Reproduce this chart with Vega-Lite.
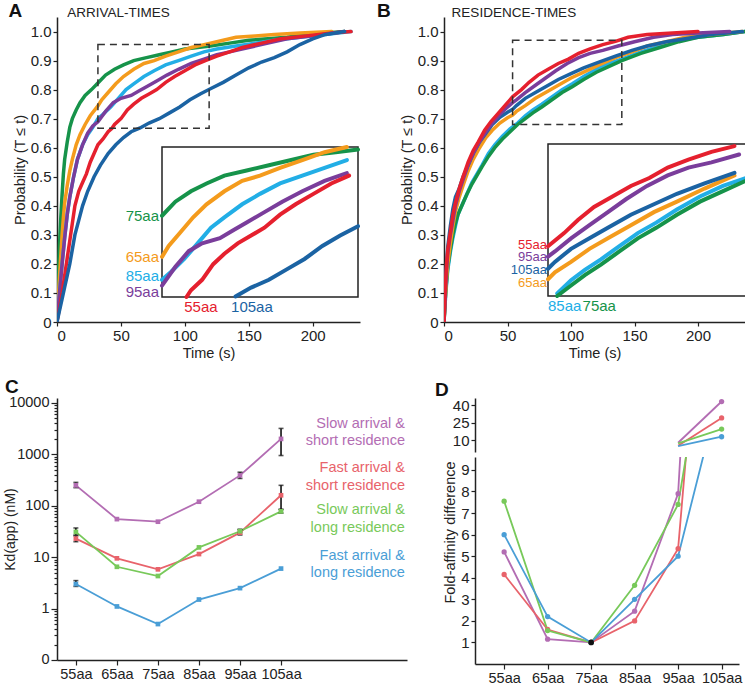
{
"$schema": "https://vega.github.io/schema/vega-lite/v6.json",
"padding": {"left": 3, "top": 2, "right": 2, "bottom": 0},
"config": {
  "font": "Liberation Sans",
  "view": {"stroke": null},
  "style": {"guide-label": {"fontSize": 15}, "guide-title": {"fontSize": 14.5, "fontWeight": "normal"}},
  "axis": {"grid": false, "domainColor": "#222", "tickColor": "#222", "labelColor": "#222", "titleColor": "#222", "labelFontSize": 15, "titleFontSize": 14.5, "titleFontWeight": "normal", "labelFont": "Liberation Sans", "titleFont": "Liberation Sans", "domainWidth": 1.5, "tickWidth": 1.2, "tickSize": 4, "labelPadding": 2, "titlePadding": 3, "labelOverlap": false}
},
"datasets": {
  "arr": [
    {"c":"75aa","t":0,"p":0},{"c":"75aa","t":1,"p":0.15},{"c":"75aa","t":2,"p":0.27},{"c":"75aa","t":3,"p":0.36},{"c":"75aa","t":4,"p":0.44},{"c":"75aa","t":5,"p":0.51},{"c":"75aa","t":6,"p":0.56},{"c":"75aa","t":8,"p":0.62},{"c":"75aa","t":10,"p":0.67},{"c":"75aa","t":12,"p":0.7},{"c":"75aa","t":15,"p":0.73},{"c":"75aa","t":18,"p":0.755},{"c":"75aa","t":22,"p":0.78},{"c":"75aa","t":27,"p":0.8},{"c":"75aa","t":32,"p":0.823},{"c":"75aa","t":38,"p":0.85},{"c":"75aa","t":45,"p":0.87},{"c":"75aa","t":52,"p":0.885},{"c":"75aa","t":60,"p":0.9},{"c":"75aa","t":70,"p":0.91},{"c":"75aa","t":80,"p":0.92},{"c":"75aa","t":90,"p":0.93},{"c":"75aa","t":100,"p":0.94},{"c":"75aa","t":110,"p":0.945},{"c":"75aa","t":120,"p":0.95},{"c":"75aa","t":135,"p":0.96},{"c":"75aa","t":150,"p":0.97},{"c":"75aa","t":165,"p":0.975},{"c":"75aa","t":180,"p":0.98},{"c":"75aa","t":195,"p":0.99},{"c":"75aa","t":210,"p":0.995},{"c":"75aa","t":225,"p":1.0},
    {"c":"65aa","t":0,"p":0},{"c":"65aa","t":1,"p":0.08},{"c":"65aa","t":2,"p":0.16},{"c":"65aa","t":3,"p":0.23},{"c":"65aa","t":4,"p":0.3},{"c":"65aa","t":5,"p":0.36},{"c":"65aa","t":6,"p":0.41},{"c":"65aa","t":8,"p":0.47},{"c":"65aa","t":10,"p":0.52},{"c":"65aa","t":12,"p":0.56},{"c":"65aa","t":15,"p":0.61},{"c":"65aa","t":18,"p":0.645},{"c":"65aa","t":22,"p":0.68},{"c":"65aa","t":26,"p":0.71},{"c":"65aa","t":32,"p":0.744},{"c":"65aa","t":35,"p":0.765},{"c":"65aa","t":40,"p":0.79},{"c":"65aa","t":46,"p":0.82},{"c":"65aa","t":52,"p":0.845},{"c":"65aa","t":60,"p":0.87},{"c":"65aa","t":68,"p":0.89},{"c":"65aa","t":76,"p":0.9},{"c":"65aa","t":85,"p":0.915},{"c":"65aa","t":95,"p":0.93},{"c":"65aa","t":105,"p":0.945},{"c":"65aa","t":115,"p":0.955},{"c":"65aa","t":125,"p":0.965},{"c":"65aa","t":140,"p":0.98},{"c":"65aa","t":155,"p":0.985},{"c":"65aa","t":170,"p":0.99},{"c":"65aa","t":190,"p":0.995},{"c":"65aa","t":215,"p":1.0},
    {"c":"85aa","t":0,"p":0},{"c":"85aa","t":1,"p":0.05},{"c":"85aa","t":2,"p":0.1},{"c":"85aa","t":3,"p":0.15},{"c":"85aa","t":4,"p":0.2},{"c":"85aa","t":6,"p":0.29},{"c":"85aa","t":8,"p":0.37},{"c":"85aa","t":10,"p":0.43},{"c":"85aa","t":13,"p":0.5},{"c":"85aa","t":16,"p":0.56},{"c":"85aa","t":20,"p":0.61},{"c":"85aa","t":24,"p":0.645},{"c":"85aa","t":28,"p":0.67},{"c":"85aa","t":32,"p":0.7},{"c":"85aa","t":36,"p":0.715},{"c":"85aa","t":42,"p":0.74},{"c":"85aa","t":48,"p":0.77},{"c":"85aa","t":54,"p":0.8},{"c":"85aa","t":60,"p":0.82},{"c":"85aa","t":68,"p":0.845},{"c":"85aa","t":76,"p":0.865},{"c":"85aa","t":85,"p":0.885},{"c":"85aa","t":95,"p":0.9},{"c":"85aa","t":105,"p":0.915},{"c":"85aa","t":115,"p":0.93},{"c":"85aa","t":125,"p":0.94},{"c":"85aa","t":140,"p":0.95},{"c":"85aa","t":155,"p":0.96},{"c":"85aa","t":170,"p":0.97},{"c":"85aa","t":190,"p":0.98},{"c":"85aa","t":210,"p":0.99},{"c":"85aa","t":230,"p":1.0},
    {"c":"95aa","t":0,"p":0},{"c":"95aa","t":1,"p":0.05},{"c":"95aa","t":2,"p":0.1},{"c":"95aa","t":3,"p":0.15},{"c":"95aa","t":4,"p":0.2},{"c":"95aa","t":6,"p":0.29},{"c":"95aa","t":8,"p":0.37},{"c":"95aa","t":10,"p":0.43},{"c":"95aa","t":13,"p":0.5},{"c":"95aa","t":16,"p":0.56},{"c":"95aa","t":20,"p":0.61},{"c":"95aa","t":24,"p":0.65},{"c":"95aa","t":28,"p":0.675},{"c":"95aa","t":32,"p":0.689},{"c":"95aa","t":38,"p":0.725},{"c":"95aa","t":44,"p":0.755},{"c":"95aa","t":50,"p":0.77},{"c":"95aa","t":58,"p":0.78},{"c":"95aa","t":64,"p":0.795},{"c":"95aa","t":70,"p":0.81},{"c":"95aa","t":78,"p":0.83},{"c":"95aa","t":86,"p":0.85},{"c":"95aa","t":95,"p":0.87},{"c":"95aa","t":105,"p":0.89},{"c":"95aa","t":115,"p":0.905},{"c":"95aa","t":125,"p":0.92},{"c":"95aa","t":135,"p":0.93},{"c":"95aa","t":150,"p":0.945},{"c":"95aa","t":165,"p":0.96},{"c":"95aa","t":180,"p":0.975},{"c":"95aa","t":200,"p":0.985},{"c":"95aa","t":225,"p":1.0},
    {"c":"55aa","t":0,"p":0},{"c":"55aa","t":2,"p":0.05},{"c":"55aa","t":4,"p":0.1},{"c":"55aa","t":6,"p":0.16},{"c":"55aa","t":8,"p":0.22},{"c":"55aa","t":10,"p":0.28},{"c":"55aa","t":12,"p":0.34},{"c":"55aa","t":14,"p":0.4},{"c":"55aa","t":17,"p":0.45},{"c":"55aa","t":20,"p":0.48},{"c":"55aa","t":23,"p":0.51},{"c":"55aa","t":26,"p":0.55},{"c":"55aa","t":29,"p":0.58},{"c":"55aa","t":32,"p":0.61},{"c":"55aa","t":36,"p":0.63},{"c":"55aa","t":40,"p":0.655},{"c":"55aa","t":43,"p":0.667},{"c":"55aa","t":45,"p":0.68},{"c":"55aa","t":50,"p":0.7},{"c":"55aa","t":55,"p":0.73},{"c":"55aa","t":60,"p":0.75},{"c":"55aa","t":66,"p":0.77},{"c":"55aa","t":72,"p":0.785},{"c":"55aa","t":78,"p":0.8},{"c":"55aa","t":85,"p":0.825},{"c":"55aa","t":92,"p":0.845},{"c":"55aa","t":100,"p":0.865},{"c":"55aa","t":108,"p":0.885},{"c":"55aa","t":116,"p":0.9},{"c":"55aa","t":125,"p":0.915},{"c":"55aa","t":135,"p":0.93},{"c":"55aa","t":145,"p":0.945},{"c":"55aa","t":160,"p":0.96},{"c":"55aa","t":175,"p":0.975},{"c":"55aa","t":195,"p":0.985},{"c":"55aa","t":215,"p":0.995},{"c":"55aa","t":230,"p":1.0},
    {"c":"105aa","t":0,"p":0},{"c":"105aa","t":2,"p":0.04},{"c":"105aa","t":4,"p":0.08},{"c":"105aa","t":6,"p":0.12},{"c":"105aa","t":8,"p":0.16},{"c":"105aa","t":10,"p":0.2},{"c":"105aa","t":12,"p":0.25},{"c":"105aa","t":14,"p":0.3},{"c":"105aa","t":17,"p":0.35},{"c":"105aa","t":20,"p":0.4},{"c":"105aa","t":24,"p":0.45},{"c":"105aa","t":29,"p":0.5},{"c":"105aa","t":34,"p":0.54},{"c":"105aa","t":40,"p":0.58},{"c":"105aa","t":46,"p":0.61},{"c":"105aa","t":52,"p":0.635},{"c":"105aa","t":58,"p":0.655},{"c":"105aa","t":65,"p":0.668},{"c":"105aa","t":72,"p":0.685},{"c":"105aa","t":80,"p":0.7},{"c":"105aa","t":88,"p":0.72},{"c":"105aa","t":96,"p":0.74},{"c":"105aa","t":104,"p":0.765},{"c":"105aa","t":112,"p":0.785},{"c":"105aa","t":120,"p":0.803},{"c":"105aa","t":130,"p":0.825},{"c":"105aa","t":140,"p":0.85},{"c":"105aa","t":150,"p":0.875},{"c":"105aa","t":160,"p":0.895},{"c":"105aa","t":170,"p":0.91},{"c":"105aa","t":180,"p":0.93},{"c":"105aa","t":190,"p":0.955},{"c":"105aa","t":200,"p":0.975},{"c":"105aa","t":210,"p":0.99},{"c":"105aa","t":225,"p":1.0}
  ],
  "res": [
    {"c":"85aa","t":0,"p":0},{"c":"85aa","t":1,"p":0.07},{"c":"85aa","t":2,"p":0.13},{"c":"85aa","t":3,"p":0.18},{"c":"85aa","t":5,"p":0.24},{"c":"85aa","t":7,"p":0.29},{"c":"85aa","t":9,"p":0.33},{"c":"85aa","t":11,"p":0.37},{"c":"85aa","t":14,"p":0.4},{"c":"85aa","t":18,"p":0.44},{"c":"85aa","t":22,"p":0.48},{"c":"85aa","t":26,"p":0.51},{"c":"85aa","t":30,"p":0.54},{"c":"85aa","t":35,"p":0.58},{"c":"85aa","t":40,"p":0.61},{"c":"85aa","t":46,"p":0.64},{"c":"85aa","t":52,"p":0.665},{"c":"85aa","t":58,"p":0.685},{"c":"85aa","t":64,"p":0.71},{"c":"85aa","t":70,"p":0.73},{"c":"85aa","t":77,"p":0.75},{"c":"85aa","t":85,"p":0.775},{"c":"85aa","t":93,"p":0.8},{"c":"85aa","t":101,"p":0.82},{"c":"85aa","t":110,"p":0.845},{"c":"85aa","t":120,"p":0.87},{"c":"85aa","t":130,"p":0.89},{"c":"85aa","t":140,"p":0.905},{"c":"85aa","t":155,"p":0.93},{"c":"85aa","t":170,"p":0.95},{"c":"85aa","t":185,"p":0.97},{"c":"85aa","t":200,"p":0.98},{"c":"85aa","t":220,"p":0.99},{"c":"85aa","t":237,"p":1.0},
    {"c":"75aa","t":0,"p":0},{"c":"75aa","t":1,"p":0.08},{"c":"75aa","t":2,"p":0.14},{"c":"75aa","t":3,"p":0.19},{"c":"75aa","t":5,"p":0.25},{"c":"75aa","t":7,"p":0.3},{"c":"75aa","t":9,"p":0.34},{"c":"75aa","t":11,"p":0.37},{"c":"75aa","t":14,"p":0.4},{"c":"75aa","t":18,"p":0.44},{"c":"75aa","t":22,"p":0.475},{"c":"75aa","t":26,"p":0.505},{"c":"75aa","t":30,"p":0.535},{"c":"75aa","t":35,"p":0.57},{"c":"75aa","t":40,"p":0.6},{"c":"75aa","t":46,"p":0.63},{"c":"75aa","t":52,"p":0.655},{"c":"75aa","t":58,"p":0.68},{"c":"75aa","t":64,"p":0.7},{"c":"75aa","t":70,"p":0.72},{"c":"75aa","t":77,"p":0.74},{"c":"75aa","t":85,"p":0.765},{"c":"75aa","t":93,"p":0.79},{"c":"75aa","t":101,"p":0.81},{"c":"75aa","t":110,"p":0.835},{"c":"75aa","t":120,"p":0.86},{"c":"75aa","t":130,"p":0.88},{"c":"75aa","t":140,"p":0.9},{"c":"75aa","t":155,"p":0.925},{"c":"75aa","t":170,"p":0.945},{"c":"75aa","t":185,"p":0.965},{"c":"75aa","t":200,"p":0.98},{"c":"75aa","t":220,"p":0.99},{"c":"75aa","t":237,"p":1.0},
    {"c":"65aa","t":0,"p":0},{"c":"65aa","t":1,"p":0.08},{"c":"65aa","t":2,"p":0.15},{"c":"65aa","t":3,"p":0.2},{"c":"65aa","t":5,"p":0.27},{"c":"65aa","t":7,"p":0.33},{"c":"65aa","t":9,"p":0.38},{"c":"65aa","t":12,"p":0.43},{"c":"65aa","t":15,"p":0.47},{"c":"65aa","t":19,"p":0.52},{"c":"65aa","t":23,"p":0.56},{"c":"65aa","t":28,"p":0.6},{"c":"65aa","t":33,"p":0.635},{"c":"65aa","t":38,"p":0.66},{"c":"65aa","t":44,"p":0.685},{"c":"65aa","t":50,"p":0.703},{"c":"65aa","t":54,"p":0.712},{"c":"65aa","t":57,"p":0.725},{"c":"65aa","t":64,"p":0.745},{"c":"65aa","t":72,"p":0.77},{"c":"65aa","t":80,"p":0.79},{"c":"65aa","t":90,"p":0.815},{"c":"65aa","t":100,"p":0.84},{"c":"65aa","t":110,"p":0.86},{"c":"65aa","t":122,"p":0.885},{"c":"65aa","t":135,"p":0.91},{"c":"65aa","t":148,"p":0.93},{"c":"65aa","t":160,"p":0.95},{"c":"65aa","t":175,"p":0.965},{"c":"65aa","t":190,"p":0.98},{"c":"65aa","t":210,"p":0.99},{"c":"65aa","t":235,"p":1.0},
    {"c":"105aa","t":0,"p":0},{"c":"105aa","t":1,"p":0.12},{"c":"105aa","t":2,"p":0.2},{"c":"105aa","t":3,"p":0.26},{"c":"105aa","t":5,"p":0.33},{"c":"105aa","t":7,"p":0.39},{"c":"105aa","t":9,"p":0.43},{"c":"105aa","t":12,"p":0.46},{"c":"105aa","t":15,"p":0.5},{"c":"105aa","t":19,"p":0.54},{"c":"105aa","t":23,"p":0.58},{"c":"105aa","t":28,"p":0.62},{"c":"105aa","t":33,"p":0.65},{"c":"105aa","t":38,"p":0.68},{"c":"105aa","t":44,"p":0.705},{"c":"105aa","t":50,"p":0.722},{"c":"105aa","t":54,"p":0.732},{"c":"105aa","t":57,"p":0.745},{"c":"105aa","t":64,"p":0.77},{"c":"105aa","t":72,"p":0.79},{"c":"105aa","t":80,"p":0.81},{"c":"105aa","t":90,"p":0.835},{"c":"105aa","t":100,"p":0.855},{"c":"105aa","t":110,"p":0.875},{"c":"105aa","t":122,"p":0.895},{"c":"105aa","t":135,"p":0.915},{"c":"105aa","t":148,"p":0.935},{"c":"105aa","t":160,"p":0.95},{"c":"105aa","t":175,"p":0.965},{"c":"105aa","t":190,"p":0.975},{"c":"105aa","t":210,"p":0.99},{"c":"105aa","t":235,"p":1.0},
    {"c":"95aa","t":0,"p":0},{"c":"95aa","t":1,"p":0.1},{"c":"95aa","t":2,"p":0.18},{"c":"95aa","t":3,"p":0.24},{"c":"95aa","t":5,"p":0.3},{"c":"95aa","t":7,"p":0.35},{"c":"95aa","t":9,"p":0.4},{"c":"95aa","t":12,"p":0.45},{"c":"95aa","t":15,"p":0.49},{"c":"95aa","t":19,"p":0.54},{"c":"95aa","t":23,"p":0.58},{"c":"95aa","t":28,"p":0.62},{"c":"95aa","t":33,"p":0.655},{"c":"95aa","t":38,"p":0.685},{"c":"95aa","t":44,"p":0.715},{"c":"95aa","t":50,"p":0.74},{"c":"95aa","t":54,"p":0.755},{"c":"95aa","t":57,"p":0.765},{"c":"95aa","t":64,"p":0.79},{"c":"95aa","t":72,"p":0.815},{"c":"95aa","t":80,"p":0.84},{"c":"95aa","t":88,"p":0.865},{"c":"95aa","t":97,"p":0.89},{"c":"95aa","t":106,"p":0.91},{"c":"95aa","t":115,"p":0.925},{"c":"95aa","t":125,"p":0.935},{"c":"95aa","t":137,"p":0.95},{"c":"95aa","t":150,"p":0.965},{"c":"95aa","t":165,"p":0.98},{"c":"95aa","t":180,"p":0.99},{"c":"95aa","t":200,"p":0.995},{"c":"95aa","t":225,"p":1.0},
    {"c":"55aa","t":0,"p":0},{"c":"55aa","t":1,"p":0.12},{"c":"55aa","t":2,"p":0.2},{"c":"55aa","t":3,"p":0.25},{"c":"55aa","t":5,"p":0.31},{"c":"55aa","t":7,"p":0.37},{"c":"55aa","t":9,"p":0.41},{"c":"55aa","t":12,"p":0.46},{"c":"55aa","t":15,"p":0.5},{"c":"55aa","t":19,"p":0.55},{"c":"55aa","t":23,"p":0.59},{"c":"55aa","t":27,"p":0.62},{"c":"55aa","t":32,"p":0.66},{"c":"55aa","t":37,"p":0.69},{"c":"55aa","t":43,"p":0.72},{"c":"55aa","t":49,"p":0.75},{"c":"55aa","t":54,"p":0.775},{"c":"55aa","t":61,"p":0.8},{"c":"55aa","t":67,"p":0.825},{"c":"55aa","t":74,"p":0.85},{"c":"55aa","t":82,"p":0.87},{"c":"55aa","t":90,"p":0.89},{"c":"55aa","t":98,"p":0.905},{"c":"55aa","t":106,"p":0.925},{"c":"55aa","t":115,"p":0.94},{"c":"55aa","t":125,"p":0.955},{"c":"55aa","t":135,"p":0.966},{"c":"55aa","t":145,"p":0.98},{"c":"55aa","t":160,"p":0.99},{"c":"55aa","t":180,"p":0.995},{"c":"55aa","t":200,"p":1.0}
  ],
  "kd": [
    {"s":"ss","x":55,"kd":250,"fold":5.2},{"s":"ss","x":65,"kd":55,"fold":1.15},{"s":"ss","x":75,"kd":49,"fold":1},{"s":"ss","x":85,"kd":120,"fold":2.45},{"s":"ss","x":95,"kd":390,"fold":7.9},{"s":"ss","x":105,"kd":2000,"fold":43},
    {"s":"fs","x":55,"kd":23,"fold":4.15},{"s":"fs","x":65,"kd":9.5,"fold":1.6},{"s":"fs","x":75,"kd":5.8,"fold":1},{"s":"fs","x":85,"kd":11.5,"fold":2.0},{"s":"fs","x":95,"kd":30,"fold":5.35},{"s":"fs","x":105,"kd":160,"fold":29},
    {"s":"sl","x":55,"kd":31,"fold":7.55},{"s":"sl","x":65,"kd":6.5,"fold":1.55},{"s":"sl","x":75,"kd":4.3,"fold":1},{"s":"sl","x":85,"kd":15.5,"fold":3.65},{"s":"sl","x":95,"kd":32,"fold":7.4},{"s":"sl","x":105,"kd":78,"fold":19.5},
    {"s":"fl","x":55,"kd":3.0,"fold":6.0},{"s":"fl","x":65,"kd":1.1,"fold":2.2},{"s":"fl","x":75,"kd":0.5,"fold":1},{"s":"fl","x":85,"kd":1.5,"fold":3.0},{"s":"fl","x":95,"kd":2.5,"fold":5.0},{"s":"fl","x":105,"kd":6,"fold":13}
  ],
  "kderr": [
    {"s":"ss","x":55,"lo":225,"hi":285},{"s":"ss","x":95,"lo":340,"hi":450},{"s":"ss","x":105,"lo":950,"hi":3200},
    {"s":"fs","x":55,"lo":20,"hi":26},{"s":"fs","x":95,"lo":27,"hi":34},{"s":"fs","x":105,"lo":85,"hi":250},
    {"s":"sl","x":55,"lo":27,"hi":37},{"s":"sl","x":95,"lo":30,"hi":35},{"s":"sl","x":105,"lo":72,"hi":85},
    {"s":"fl","x":55,"lo":2.7,"hi":3.5}
  ]
},
"resolve": {"scale": {"color": "independent"}},
"spacing": 18,
"vconcat": [
  {"spacing": 10, "hconcat": [
    {"width": 303, "height": 305,
     "resolve": {"scale": {"x": "independent", "y": "independent"}},
     "layer": [
       {"layer": [
         {"data": {"name": "arr"},
          "mark": {"type": "line", "strokeWidth": 3.5, "strokeCap": "round", "clip": true},
          "encoding": {
            "x": {"field": "t", "type": "quantitative", "scale": {"domain": [0, 237], "nice": false}, "axis": {"values": [0,50,100,150,200], "tickCount": 50, "format": "d", "title": "Time (s)", "labelFontSize": 15, "titleFontSize": 14.5}},
            "y": {"field": "p", "type": "quantitative", "scale": {"domain": [0, 1.05], "nice": false}, "axis": {"values": [0,0.1,0.2,0.3,0.4,0.5,0.6,0.7,0.8,0.9,1.0], "tickCount": 50, "labelExpr": "datum.value == 0 ? '0' : format(datum.value, '.1f')", "title": "Probability (T ≤ t)", "labelFontSize": 15, "titleFontSize": 14.5, "labelOverlap": false}},
            "color": {"field": "c", "type": "nominal", "scale": {"domain": ["55aa","65aa","75aa","85aa","95aa","105aa"], "range": ["#e5202e","#f49b1c","#16934a","#22aee6","#7a3d9b","#1b63a3"]}, "legend": null}
          }},
         {"data": {"values": [{"x1": 32, "x2": 119, "y1": 0.667, "y2": 0.955}]},
          "mark": {"type": "rect", "fill": null, "fillOpacity": 0, "stroke": "#333", "strokeWidth": 1.5, "strokeDash": [7, 5]},
          "encoding": {"x": {"field": "x1", "type": "quantitative"}, "x2": {"field": "x2"}, "y": {"field": "y1", "type": "quantitative"}, "y2": {"field": "y2"}}},
         {"data": {"values": [{"t": 8, "p": 1.05, "txt": "ARRIVAL-TIMES"}]},
          "mark": {"type": "text", "align": "left", "baseline": "alphabetic", "fontSize": 13.5, "color": "#222"},
          "encoding": {"x": {"field": "t", "type": "quantitative"}, "y": {"field": "p", "type": "quantitative"}, "text": {"field": "txt"}}},
         {"data": {"values": [{"t": -38, "p": 1.05, "txt": "A"}]},
          "mark": {"type": "text", "align": "left", "baseline": "alphabetic", "fontSize": 19, "fontWeight": "bold", "color": "#111"},
          "encoding": {"x": {"field": "t", "type": "quantitative"}, "y": {"field": "p", "type": "quantitative"}, "text": {"field": "txt"}}}
       ]},
       {"layer": [
         {"data": {"values": [{"x1": 32, "x2": 120, "y1": 0.667, "y2": 0.955}]},
          "mark": {"type": "rect", "fill": "white", "stroke": "#222", "strokeWidth": 1.5},
          "encoding": {"x": {"field": "x1", "type": "quantitative", "scale": {"domain": [32, 120], "range": [105, 301], "nice": false}, "axis": null}, "x2": {"field": "x2"}, "y": {"field": "y1", "type": "quantitative", "scale": {"domain": [0.667, 0.955], "range": [280, 130], "nice": false}, "axis": null}, "y2": {"field": "y2"}}},
         {"data": {"name": "arr"},
          "transform": [{"filter": "datum.t >= 32 && datum.t <= 120 && datum.p >= 0.667 && datum.p <= 0.955"}],
          "mark": {"type": "line", "strokeWidth": 4, "strokeCap": "round"},
          "encoding": {"x": {"field": "t", "type": "quantitative", "axis": null}, "y": {"field": "p", "type": "quantitative", "axis": null}, "color": {"field": "c", "type": "nominal", "legend": null}}},
         {"data": {"values": [{"c": "75aa", "t": 32, "p": 0.823}, {"c": "65aa", "t": 32, "p": 0.744}, {"c": "85aa", "t": 32, "p": 0.707}, {"c": "95aa", "t": 32, "p": 0.677}]},
          "mark": {"type": "text", "align": "right", "baseline": "middle", "dx": -3, "fontSize": 15},
          "encoding": {"x": {"field": "t", "type": "quantitative", "axis": null}, "y": {"field": "p", "type": "quantitative", "axis": null}, "text": {"field": "c"}, "color": {"field": "c", "type": "nominal", "legend": null}}},
         {"data": {"values": [{"c": "55aa", "t": 42, "p": 0.667}, {"c": "105aa", "t": 63, "p": 0.667}]},
          "mark": {"type": "text", "align": "left", "baseline": "top", "dy": 3, "fontSize": 15},
          "encoding": {"x": {"field": "t", "type": "quantitative", "axis": null}, "y": {"field": "p", "type": "quantitative", "axis": null}, "text": {"field": "c"}, "color": {"field": "c", "type": "nominal", "legend": null}}}
       ]}
     ]},
    {"width": 301, "height": 305,
     "resolve": {"scale": {"x": "independent", "y": "independent"}},
     "layer": [
       {"layer": [
         {"data": {"name": "res"},
          "mark": {"type": "line", "strokeWidth": 3.5, "strokeCap": "round", "clip": true},
          "encoding": {
            "x": {"field": "t", "type": "quantitative", "scale": {"domain": [0, 237], "nice": false}, "axis": {"values": [0,50,100,150,200], "tickCount": 50, "format": "d", "title": "Time (s)", "labelFontSize": 15, "titleFontSize": 14.5}},
            "y": {"field": "p", "type": "quantitative", "scale": {"domain": [0, 1.05], "nice": false}, "axis": {"values": [0,0.1,0.2,0.3,0.4,0.5,0.6,0.7,0.8,0.9,1.0], "tickCount": 50, "labelExpr": "datum.value == 0 ? '0' : format(datum.value, '.1f')", "title": "Probability (T ≤ t)", "labelFontSize": 15, "titleFontSize": 14.5, "labelOverlap": false}},
            "color": {"field": "c", "type": "nominal", "scale": {"domain": ["85aa","75aa","65aa","105aa","95aa","55aa"], "range": ["#22aee6","#16934a","#f49b1c","#1b63a3","#7a3d9b","#e5202e"]}, "legend": null}
          }},
         {"data": {"values": [{"x1": 54, "x2": 140, "y1": 0.68, "y2": 0.97}]},
          "mark": {"type": "rect", "fill": null, "fillOpacity": 0, "stroke": "#333", "strokeWidth": 1.5, "strokeDash": [7, 5]},
          "encoding": {"x": {"field": "x1", "type": "quantitative"}, "x2": {"field": "x2"}, "y": {"field": "y1", "type": "quantitative"}, "y2": {"field": "y2"}}},
         {"data": {"values": [{"t": 6, "p": 1.05, "txt": "RESIDENCE-TIMES"}]},
          "mark": {"type": "text", "align": "left", "baseline": "alphabetic", "fontSize": 13.5, "color": "#222"},
          "encoding": {"x": {"field": "t", "type": "quantitative"}, "y": {"field": "p", "type": "quantitative"}, "text": {"field": "txt"}}},
         {"data": {"values": [{"t": -52.8, "p": 1.05, "txt": "B"}]},
          "mark": {"type": "text", "align": "left", "baseline": "alphabetic", "fontSize": 19, "fontWeight": "bold", "color": "#111"},
          "encoding": {"x": {"field": "t", "type": "quantitative"}, "y": {"field": "p", "type": "quantitative"}, "text": {"field": "txt"}}}
       ]},
       {"layer": [
         {"data": {"values": [{"x1": 54, "x2": 140, "y1": 0.68, "y2": 0.97}]},
          "mark": {"type": "rect", "fill": "white", "stroke": "#222", "strokeWidth": 1.5},
          "encoding": {"x": {"field": "x1", "type": "quantitative", "scale": {"domain": [54, 140], "range": [104, 302], "nice": false}, "axis": null}, "x2": {"field": "x2"}, "y": {"field": "y1", "type": "quantitative", "scale": {"domain": [0.68, 0.97], "range": [279, 127], "nice": false}, "axis": null}, "y2": {"field": "y2"}}},
         {"data": {"name": "res"},
          "transform": [{"filter": "datum.t >= 54 && datum.t <= 140 && datum.p >= 0.68 && datum.p <= 0.97"}],
          "mark": {"type": "line", "strokeWidth": 4, "strokeCap": "round"},
          "encoding": {"x": {"field": "t", "type": "quantitative", "axis": null}, "y": {"field": "p", "type": "quantitative", "axis": null}, "color": {"field": "c", "type": "nominal", "legend": null}}},
         {"data": {"values": [{"c": "55aa", "t": 54, "p": 0.778}, {"c": "95aa", "t": 54, "p": 0.754}, {"c": "105aa", "t": 54, "p": 0.729}, {"c": "65aa", "t": 54, "p": 0.704}]},
          "mark": {"type": "text", "align": "right", "baseline": "middle", "dx": -1, "fontSize": 13},
          "encoding": {"x": {"field": "t", "type": "quantitative", "axis": null}, "y": {"field": "p", "type": "quantitative", "axis": null}, "text": {"field": "c"}, "color": {"field": "c", "type": "nominal", "legend": null}}},
         {"data": {"values": [{"c": "85aa", "t": 54, "p": 0.68}, {"c": "75aa", "t": 69, "p": 0.68}]},
          "mark": {"type": "text", "align": "left", "baseline": "top", "dy": 3, "fontSize": 15},
          "encoding": {"x": {"field": "t", "type": "quantitative", "axis": null}, "y": {"field": "p", "type": "quantitative", "axis": null}, "text": {"field": "c"}, "color": {"field": "c", "type": "nominal", "legend": null}}}
       ]}
     ]}
  ]},
  {"spacing": 27, "hconcat": [
    {"width": 350, "height": 262,
     "layer": [
       {"data": {"name": "kd"},
        "mark": {"type": "line", "strokeWidth": 1.8},
        "encoding": {
          "x": {"field": "x", "type": "quantitative", "scale": {"domain": [50.4, 135.7], "nice": false}, "axis": {"values": [55,65,75,85,95,105], "tickCount": 50, "labelExpr": "datum.value + 'aa'", "title": null, "tickSize": 5, "labelFontSize": 14.5}},
          "y": {"field": "kd", "type": "quantitative", "title": "Kd(app) (nM)", "scale": {"type": "log", "domain": [0.0999, 12500], "nice": false}, "axis": {"values": [0.1,0.2,0.3,0.4,0.5,0.6,0.7,0.8,0.9,1,2,3,4,5,6,7,8,9,10,20,30,40,50,60,70,80,90,100,200,300,400,500,600,700,800,900,1000,2000,3000,4000,5000,6000,7000,8000,9000,10000], "tickCount": 100, "labelExpr": "datum.value == 0.1 ? '0' : (indexof([1,10,100,1000,10000], datum.value) >= 0 ? format(datum.value, 'd') : '')", "tickSize": {"condition": {"test": "indexof([0.1,1,10,100,1000,10000], datum.value) >= 0", "value": 6}, "value": 3}, "labelOverlap": false, "labelFontSize": 14.5, "titleFontSize": 14, "titleX": -40}},
          "color": {"field": "s", "type": "nominal", "scale": {"domain": ["ss","fs","sl","fl"], "range": ["#b36db3","#e8636b","#78c95a","#4a9ed6"]}, "legend": null}
        }},
       {"data": {"name": "kderr"},
        "mark": {"type": "errorbar", "ticks": true, "color": "#111", "thickness": 1.6},
        "encoding": {"x": {"field": "x", "type": "quantitative"}, "y": {"field": "lo", "type": "quantitative", "title": "Kd(app) (nM)"}, "y2": {"field": "hi"}}},
       {"data": {"name": "kd"},
        "mark": {"type": "square", "size": 22, "opacity": 1, "filled": true},
        "encoding": {"x": {"field": "x", "type": "quantitative"}, "y": {"field": "kd", "type": "quantitative", "title": "Kd(app) (nM)"}, "color": {"field": "s", "type": "nominal", "legend": null}}},
       {"data": {"values": [
          {"s": "ss", "lx": 135.2, "ly": 3935, "txt": "Slow arrival &\nshort residence"},
          {"s": "fs", "lx": 135.2, "ly": 543, "txt": "Fast arrival &\nshort residence"},
          {"s": "sl", "lx": 135.2, "ly": 82, "txt": "Slow arrival &\nlong residence"},
          {"s": "fl", "lx": 135.2, "ly": 10.6, "txt": "Fast arrival &\nlong residence"}]},
        "mark": {"type": "text", "align": "right", "baseline": "middle", "fontSize": 14.5, "lineBreak": "\n", "lineHeight": 17.5},
        "encoding": {"x": {"field": "lx", "type": "quantitative"}, "y": {"field": "ly", "type": "quantitative", "title": "Kd(app) (nM)"}, "text": {"field": "txt"}, "color": {"field": "s", "type": "nominal", "legend": null}}},
       {"data": {"values": [{"lx": 37.7, "ly": 15500, "txt": "C"}]},
        "mark": {"type": "text", "align": "left", "baseline": "alphabetic", "fontSize": 19, "fontWeight": "bold", "color": "#111"},
        "encoding": {"x": {"field": "lx", "type": "quantitative"}, "y": {"field": "ly", "type": "quantitative", "title": "Kd(app) (nM)"}, "text": {"field": "txt"}}}
     ]},
    {"spacing": 5,
     "vconcat": [
       {"width": 264, "height": 54,
        "layer": [
          {"data": {"name": "kd"},
           "transform": [{"filter": "datum.x >= 95"}],
           "mark": {"type": "line", "strokeWidth": 1.8, "clip": true},
           "encoding": {
             "x": {"field": "x", "type": "quantitative", "scale": {"domain": [48.3, 109], "nice": false}, "axis": null},
             "y": {"field": "fold", "type": "quantitative", "scale": {"domain": [0, 46], "nice": false}, "axis": {"values": [10, 25, 40], "tickCount": 50, "format": "d", "title": null, "labelFontSize": 15, "labelOverlap": false}},
             "color": {"field": "s", "type": "nominal", "scale": {"domain": ["ss","fs","sl","fl"], "range": ["#b36db3","#e8636b","#78c95a","#4a9ed6"]}, "legend": null}
           }},
          {"data": {"name": "kd"},
           "transform": [{"filter": "datum.x == 105"}],
           "mark": {"type": "circle", "size": 28, "opacity": 1},
           "encoding": {"x": {"field": "x", "type": "quantitative"}, "y": {"field": "fold", "type": "quantitative"}, "color": {"field": "s", "type": "nominal", "legend": null}}},
          {"data": {"values": [{"x": 39.1, "fold": 47.5, "txt": "D"}]},
           "mark": {"type": "text", "align": "left", "baseline": "alphabetic", "fontSize": 19, "fontWeight": "bold", "color": "#111"},
           "encoding": {"x": {"field": "x", "type": "quantitative"}, "y": {"field": "fold", "type": "quantitative"}, "text": {"field": "txt"}}}
        ]},
       {"width": 264, "height": 207,
        "layer": [
          {"data": {"name": "kd"},
           "mark": {"type": "line", "strokeWidth": 1.8, "clip": true},
           "encoding": {
             "x": {"field": "x", "type": "quantitative", "scale": {"domain": [48.3, 109], "nice": false}, "axis": {"values": [55,65,75,85,95,105], "tickCount": 50, "labelExpr": "datum.value + 'aa'", "title": null, "tickSize": 5, "labelFontSize": 14.5}},
             "y": {"field": "fold", "type": "quantitative", "scale": {"domain": [0, 9.6], "nice": false}, "axis": {"values": [1,2,3,4,5,6,7,8,9], "tickCount": 50, "format": "d", "title": "Fold-affinity difference", "titleY": 75, "labelFontSize": 15, "titleFontSize": 14.5, "labelOverlap": false}},
             "color": {"field": "s", "type": "nominal", "scale": {"domain": ["ss","fs","sl","fl"], "range": ["#b36db3","#e8636b","#78c95a","#4a9ed6"]}, "legend": null}
           }},
          {"data": {"name": "kd"},
           "transform": [{"filter": "datum.x < 105"}],
           "mark": {"type": "circle", "size": 28, "opacity": 1},
           "encoding": {"x": {"field": "x", "type": "quantitative"}, "y": {"field": "fold", "type": "quantitative"}, "color": {"field": "s", "type": "nominal", "legend": null}}},
          {"data": {"values": [{"x": 75, "fold": 1}]},
           "mark": {"type": "circle", "size": 32, "opacity": 1, "color": "#111"},
           "encoding": {"x": {"field": "x", "type": "quantitative"}, "y": {"field": "fold", "type": "quantitative"}}}
        ]}
     ]}
  ]}
]
}
